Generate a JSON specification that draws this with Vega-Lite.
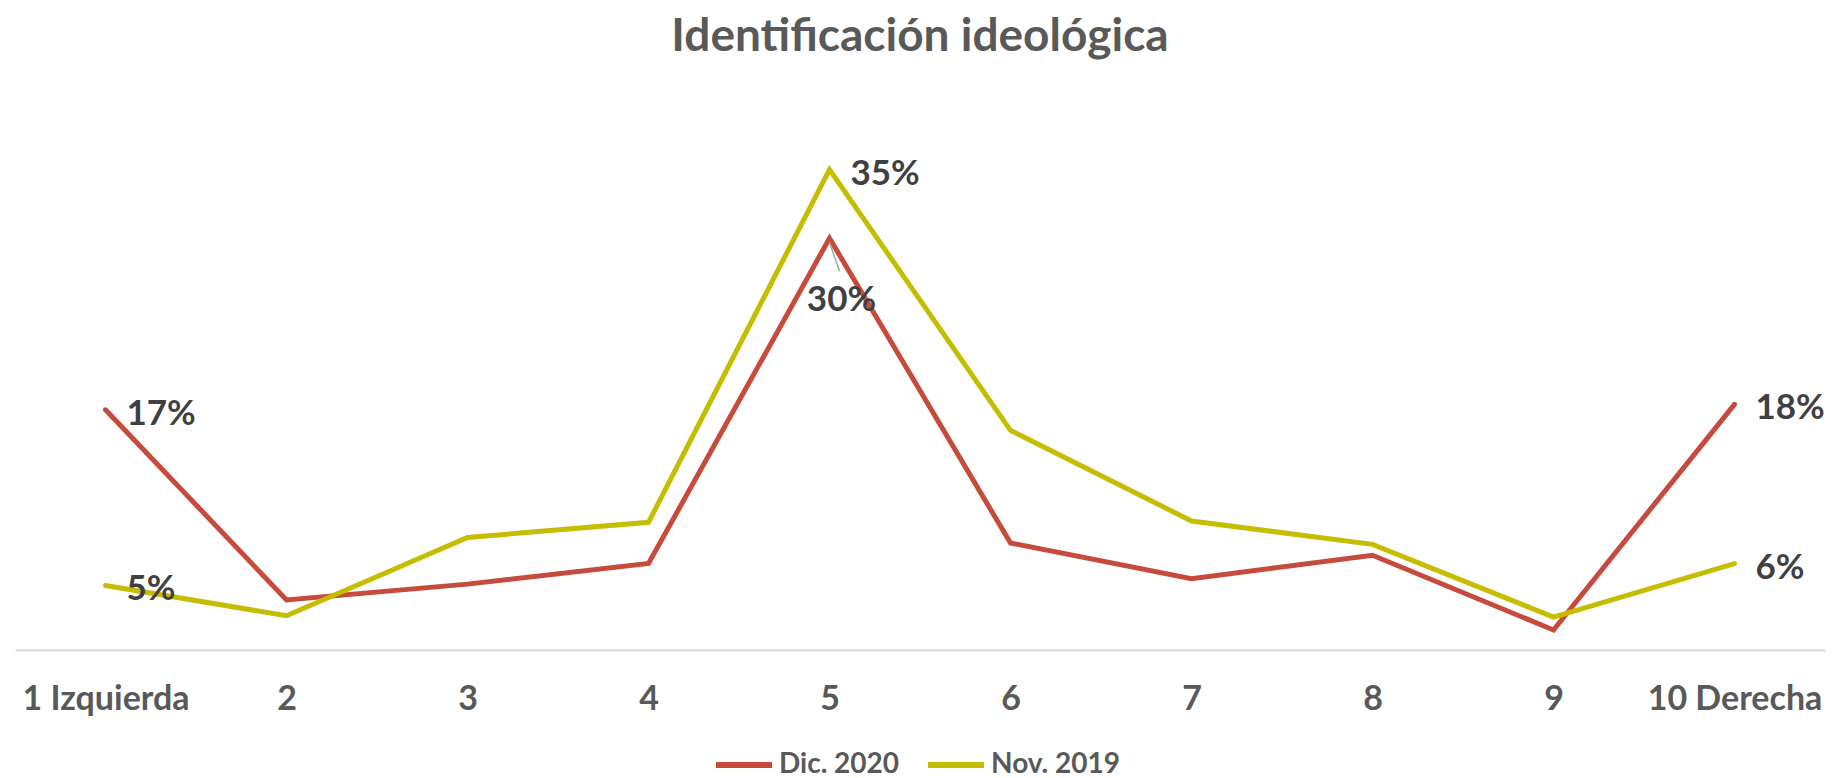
{
  "$schema": "https://vega.github.io/schema/vega-lite/v6.json",
  "width": 1810,
  "height": 549,
  "autosize": {"type": "none"},
  "padding": {"left": 15, "top": 101, "right": 7, "bottom": 128},
  "background": "white",
  "title": {
    "text": "Identificación ideológica",
    "font": "Lato",
    "fontSize": 46,
    "fontWeight": "bold",
    "color": "#595959",
    "anchor": "middle",
    "baseline": "alphabetic",
    "offset": 4
  },
  "config": {
    "view": {"stroke": null},
    "font": "Lato"
  },
  "datasets": {
    "main": [
      {"x": "1 Izquierda", "serie": "Dic. 2020", "v": 17.5, "label": "17%"},
      {"x": "2", "serie": "Dic. 2020", "v": 3.65, "label": ""},
      {"x": "3", "serie": "Dic. 2020", "v": 4.8, "label": ""},
      {"x": "4", "serie": "Dic. 2020", "v": 6.3, "label": ""},
      {"x": "5", "serie": "Dic. 2020", "v": 30.0, "label": "30%"},
      {"x": "6", "serie": "Dic. 2020", "v": 7.8, "label": ""},
      {"x": "7", "serie": "Dic. 2020", "v": 5.2, "label": ""},
      {"x": "8", "serie": "Dic. 2020", "v": 6.9, "label": ""},
      {"x": "9", "serie": "Dic. 2020", "v": 1.46, "label": ""},
      {"x": "10 Derecha", "serie": "Dic. 2020", "v": 17.9, "label": "18%"},
      {"x": "1 Izquierda", "serie": "Nov. 2019", "v": 4.7, "label": "5%"},
      {"x": "2", "serie": "Nov. 2019", "v": 2.5, "label": ""},
      {"x": "3", "serie": "Nov. 2019", "v": 8.2, "label": ""},
      {"x": "4", "serie": "Nov. 2019", "v": 9.3, "label": ""},
      {"x": "5", "serie": "Nov. 2019", "v": 35.0, "label": "35%"},
      {"x": "6", "serie": "Nov. 2019", "v": 16.0, "label": ""},
      {"x": "7", "serie": "Nov. 2019", "v": 9.4, "label": ""},
      {"x": "8", "serie": "Nov. 2019", "v": 7.7, "label": ""},
      {"x": "9", "serie": "Nov. 2019", "v": 2.4, "label": ""},
      {"x": "10 Derecha", "serie": "Nov. 2019", "v": 6.3, "label": "6%"}
    ],
    "leader": [
      {"x": "5", "y1": 29.7, "y2": 27.6}
    ]
  },
  "encoding": {
    "x": {
      "field": "x",
      "type": "nominal",
      "sort": ["1 Izquierda", "2", "3", "4", "5", "6", "7", "8", "9", "10 Derecha"],
      "scale": {"type": "point", "padding": 0.5},
      "axis": {
        "title": null,
        "orient": "bottom",
        "labelAngle": 0,
        "ticks": false,
        "tickSize": 0,
        "grid": false,
        "domainColor": "#D9D9D9",
        "domainWidth": 2,
        "labelFont": "Lato",
        "labelFontSize": 34,
        "labelFontWeight": "bold",
        "labelColor": "#595959",
        "labelBaseline": "alphabetic",
        "labelPadding": 59,
        "labelOverlap": false,
        "labelBound": false,
        "labelFlush": false
      }
    },
    "y": {
      "field": "v",
      "type": "quantitative",
      "scale": {"domain": [0, 40], "nice": false, "zero": true},
      "axis": null
    }
  },
  "layer": [
    {
      "data": {"name": "main"},
      "mark": {"type": "line", "strokeWidth": 5, "strokeCap": "round", "strokeJoin": "miter"},
      "encoding": {
        "color": {
          "field": "serie",
          "type": "nominal",
          "scale": {"domain": ["Dic. 2020", "Nov. 2019"], "range": ["#C64B3C", "#C4BD00"]},
          "legend": {
            "title": null,
            "orient": "none",
            "direction": "horizontal",
            "legendX": 715,
            "legendY": 650,
            "symbolType": "M-4,0H4",
            "symbolSize": 196,
            "symbolStrokeWidth": 6,
            "labelFont": "Lato",
            "labelFontSize": 28,
            "labelFontWeight": "bold",
            "labelColor": "#595959",
            "labelOffset": 21,
            "columnPadding": 16
          }
        }
      }
    },
    {
      "data": {"name": "leader"},
      "mark": {"type": "rule", "color": "#A6A6A6", "strokeWidth": 1.5, "x2Offset": 10},
      "encoding": {
        "x": {"field": "x", "type": "nominal", "sort": ["1 Izquierda", "2", "3", "4", "5", "6", "7", "8", "9", "10 Derecha"]},
        "x2": {"field": "x"},
        "y": {"field": "y1", "type": "quantitative"},
        "y2": {"field": "y2"}
      }
    },
    {
      "data": {"name": "main"},
      "transform": [{"filter": "datum.label != '' && !(datum.serie == 'Dic. 2020' && datum.x == '5')"}],
      "mark": {"type": "text", "align": "left", "baseline": "middle", "dx": 21, "dy": 4, "font": "Lato", "fontSize": 35, "fontWeight": "bold", "color": "#404040"},
      "encoding": {
        "text": {"field": "label"}
      }
    },
    {
      "data": {"name": "main"},
      "transform": [{"filter": "datum.serie == 'Dic. 2020' && datum.x == '5'"}],
      "mark": {"type": "text", "align": "center", "baseline": "middle", "dx": 12, "dy": 62, "font": "Lato", "fontSize": 35, "fontWeight": "bold", "color": "#404040"},
      "encoding": {
        "text": {"field": "label"}
      }
    }
  ]
}
